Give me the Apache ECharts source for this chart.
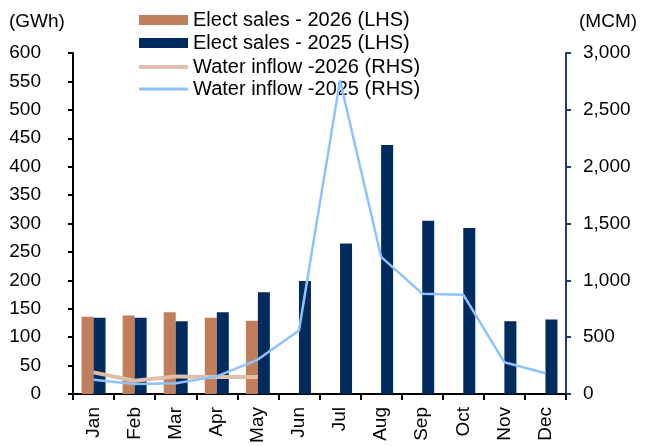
<!DOCTYPE html>
<html>
<head>
<meta charset="utf-8">
<script src="https://cdn.jsdelivr.net/npm/echarts@6/dist/echarts.min.js"></script>
<style>html,body{margin:0;padding:0;background:#fff;}#c{width:645px;height:446px;}</style>
</head>
<body>
<div id="c"></div>
<script>
var months = ['Jan','Feb','Mar','Apr','May','Jun','Jul','Aug','Sep','Oct','Nov','Dec'];
var elect2026 = [136, 138, 144, 134, 129, null, null, null, null, null, null, null];
var elect2025 = [134, 134, 128, 144, 179, 199, 265, 438, 305, 292, 128, 131];
var water2026 = [190, 117, 155, 150, 150, null, null, null, null, null, null, null];
var water2025 = [126, 88, 94, 155, 303, 559, 2759, 1206, 883, 874, 279, 182];
var leftTicks = {min: 0, max: 600, interval: 50};
var rightTicks = {min: 0, max: 3000, interval: 500};

var FONT = '"Liberation Sans", Arial, sans-serif';
var names = ['Elect sales - 2026 (LHS)','Elect sales - 2025 (LHS)','Water inflow -2026 (RHS)','Water inflow -2025 (RHS)'];
var C26 = '#C07F5A', C25 = '#002B5F', W26 = '#DFBFA9', W25 = '#8EC3FF';

function mkLegend(name, top, icon, h) {
  return {
    data: [{name: name, icon: icon}], left: 139, top: top, padding: 0,
    itemWidth: 49, itemHeight: h, itemGap: 0, selectedMode: false,
    textStyle: {fontFamily: FONT, fontSize: 20, color: '#000', lineHeight: 20, padding: [0,0,0,0]}
  };
}

var chart = echarts.init(document.getElementById('c'), null, {renderer: 'canvas'});
chart.setOption({
  animation: false,
  backgroundColor: '#fff',
  grid: {left: 73, right: 79, top: 53, bottom: 52, containLabel: false},
  legend: [
    mkLegend(names[0], 10, 'rect', 10),
    mkLegend(names[1], 33, 'rect', 10),
    mkLegend(names[2], 57, 'roundRect', 4),
    mkLegend(names[3], 79, 'rect', 3)
  ],
  graphic: [
    {type: 'text', left: 9, top: 12, style: {text: '(GWh)', font: '19px ' + FONT, fill: '#000'}},
    {type: 'text', left: 579, top: 12, style: {text: '(MCM)', font: '19px ' + FONT, fill: '#000'}}
  ],
  xAxis: {
    type: 'category', data: months, boundaryGap: true,
    axisLine: {lineStyle: {color: '#000', width: 2}},
    axisTick: {show: true, length: 6, lineStyle: {color: '#000', width: 2}},
    axisLabel: {rotate: 90, margin: 13, fontFamily: FONT, fontSize: 19, color: '#000', interval: 0},
    splitLine: {show: false}
  },
  yAxis: [
    {
      type: 'value', min: leftTicks.min, max: leftTicks.max, interval: leftTicks.interval, position: 'left',
      axisLine: {show: true, lineStyle: {color: '#000', width: 2}},
      axisTick: {show: true, length: 5, lineStyle: {color: '#000', width: 2}},
      axisLabel: {margin: 32, fontFamily: FONT, fontSize: 19, color: '#000'},
      splitLine: {show: false}
    },
    {
      type: 'value', min: rightTicks.min, max: rightTicks.max, interval: rightTicks.interval, position: 'right',
      axisLine: {show: true, lineStyle: {color: '#1F3F73', width: 2}},
      axisTick: {show: true, length: 5, lineStyle: {color: '#1F3F73', width: 2}},
      axisLabel: {margin: 17, fontFamily: FONT, fontSize: 19, color: '#000',
        formatter: function (v) { return String(v).replace(/\B(?=(\d{3})+(?!\d))/g, ','); }},
      splitLine: {show: false}
    }
  ],
  series: [
    {name: names[0], type: 'bar', data: elect2026, yAxisIndex: 0, barWidth: 12, barGap: '0%', itemStyle: {color: C26}},
    {name: names[1], type: 'bar', data: elect2025, yAxisIndex: 0, barWidth: 12, barGap: '0%', itemStyle: {color: C25}},
    {name: names[2], type: 'line', data: water2026, yAxisIndex: 1, symbol: 'none', lineStyle: {color: W26, width: 4}, itemStyle: {color: W26}, z: 3},
    {name: names[3], type: 'line', data: water2025, yAxisIndex: 1, symbol: 'none', lineStyle: {color: W25, width: 2.5}, itemStyle: {color: W25}, z: 4}
  ]
});
</script>
</body>
</html>
